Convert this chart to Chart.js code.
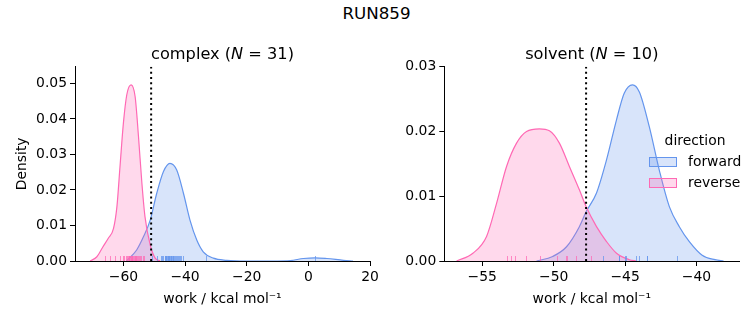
<!DOCTYPE html>
<html>
<head>
<meta charset="utf-8">
<script src="https://cdn.jsdelivr.net/npm/chart.js@4.4.0/dist/chart.umd.min.js"></script>
<style>
  html, body { margin: 0; padding: 0; background: #fff; }
  #wrap { position: relative; width: 753px; height: 325px; }
  #wrap canvas { position: absolute; left: 0; top: 0; }
  #sup { position: absolute; left: 0; top: 3px; width: 753px; text-align: center;
         font: 16.7px/20px "DejaVu Sans"; color: #000; }
</style>
</head>
<body>
<div id="wrap">
  <div id="sup">RUN859</div>
  <canvas id="complexChart" width="753" height="325"></canvas>
  <canvas id="solventChart" width="753" height="325"></canvas>
</div>
<script>
// complex leg: KDE curves (x = work, y = density)
const complexN = 31;
const complexForwardX = [-59.0, -55.7, -53.5, -51.3, -49.2, -47.0, -44.9, -42.7, -40.5, -38.4, -36.2, -34.1, -30.8, -26.5, -20.0, -10.0, -5.9, -1.6, 2.2, 6.0, 11.4, 14.5];
const complexForwardY = [0.0000, 0.0031, 0.0068, 0.0115, 0.0190, 0.0252, 0.0275, 0.0256, 0.0190, 0.0115, 0.0059, 0.0026, 0.0008, 0.0002, 0.0000, 0.0000, 0.0001, 0.0007, 0.0009, 0.0007, 0.0002, 0.0000];
const complexReverseX = [-70.8, -68.6, -66.5, -64.9, -63.2, -62.1, -61.1, -60.0, -58.9, -57.5, -56.2, -55.1, -54.0, -53.0, -51.3, -49.7, -48.1];
const complexReverseY = [0.0000, 0.0012, 0.0042, 0.0064, 0.0092, 0.0153, 0.0266, 0.0388, 0.0468, 0.0496, 0.0463, 0.0350, 0.0219, 0.0125, 0.0045, 0.0008, 0.0000];
const complexForwardRug = [-50.5, -49.0, -47.8, -47.2, -46.9, -46.5, -46.2, -46.0, -45.9, -45.7, -45.5, -45.3, -45.1, -44.9, -44.7, -44.5, -44.3, -44.1, -43.9, -43.6, -43.4, -43.1, -42.8, -42.5, -42.2, -41.9, -41.5, -41.1, -40.6, -33.0, 2.2];
const complexReverseRug = [-65.9, -64.3, -62.7, -61.1, -60.1, -59.5, -59.0, -58.7, -58.4, -58.1, -58.0, -57.9, -57.7, -57.5, -57.3, -57.1, -57.0, -56.9, -56.7, -56.5, -56.2, -56.0, -55.9, -55.6, -55.3, -55.0, -54.7, -54.3, -54.0, -53.6, -53.2];
const complexMark = -51.0;
const complexXTicks = [-60, -40, -20, 0, 20];
const complexYTicks = [0, 0.01, 0.02, 0.03, 0.04, 0.05];
const complexXRange = [-75.7, 20];
const complexYMax = 0.0547;

// solvent leg
const solventN = 10;
const solventForwardX = [-51.2, -50.07, -49.1, -48.2, -47.73, -47.0, -46.3, -45.6, -45.06, -44.48, -44.0, -43.3, -42.6, -41.9, -41.2, -40.5, -39.6, -38.7, -38.1];
const solventForwardY = [0.0000, 0.0007, 0.0022, 0.0053, 0.0076, 0.0105, 0.0156, 0.0218, 0.0259, 0.0272, 0.0261, 0.0207, 0.0140, 0.0084, 0.0053, 0.0030, 0.0009, 0.0002, 0.0000];
const solventReverseX = [-56.8, -55.66, -54.7, -54.0, -53.3, -52.6, -51.9, -51.0, -50.3, -49.6, -48.9, -48.2, -47.73, -47.0, -46.3, -45.6, -44.7, -44.2];
const solventReverseY = [0.0000, 0.0012, 0.0038, 0.0089, 0.0146, 0.0182, 0.0200, 0.0204, 0.0201, 0.0182, 0.0146, 0.0110, 0.0084, 0.0053, 0.0030, 0.0012, 0.0002, 0.0000];
const solventForwardRug = [-46.50, -45.41, -45.40, -44.94, -44.90, -44.17, -44.01, -43.43, -43.40, -41.33];
const solventReverseRug = [-53.22, -52.98, -52.68, -51.89, -50.93, -49.72, -49.13, -49.02, -48.43, -47.38];
const solventMark = -47.73;
const solventXTicks = [-55, -50, -45, -40];
const solventYTicks = [0, 0.01, 0.02, 0.03];
const solventXRange = [-57.66, -37.0];
const solventYMax = 0.03;

const blue = "#6495ED";
const pink = "#FF69B4";
const blueFill = "rgba(100,149,237,0.25)";
const pinkFill = "rgba(255,105,180,0.25)";
const LABEL = 13.9;   // 10pt
const TITLE = 16.2;   // 12pt-ish

Chart.defaults.font.family = "DejaVu Sans";
Chart.defaults.color = "#000";
Chart.defaults.animation = false;

const pairs = (xs, ys) => xs.map((x, i) => ({ x, y: ys[i] }));
const fmt = v => (v < 0 ? "\u2212" : "") + Math.abs(v);

// small vertical rug tick: top half coloured, bottom half empty so it sits on the axis
function rugMark(color) {
  const c = document.createElement("canvas");
  c.width = 1; c.height = 10;
  const g = c.getContext("2d");
  g.fillStyle = color;
  g.fillRect(0, 0, 1, 5);
  return c;
}

// axes title with an italic N, like matplotlib mathtext
const titlePlugin = {
  id: "mathTitle",
  afterDraw(chart, args, opts) {
    const ctx = chart.ctx;
    const area = chart.chartArea;
    const parts = [
      { t: opts.name + " (", f: `${TITLE}px 'DejaVu Sans'` },
      { t: "N", f: `italic ${TITLE}px 'DejaVu Sans'` },
      { t: " = " + opts.n + ")", f: `${TITLE}px 'DejaVu Sans'` }
    ];
    ctx.save();
    let w = 0;
    parts.forEach(p => { ctx.font = p.f; p.w = ctx.measureText(p.t).width; w += p.w; });
    let x = (area.left + area.right) / 2 - w / 2;
    ctx.fillStyle = "#000";
    ctx.textBaseline = "middle";
    parts.forEach(p => { ctx.font = p.f; ctx.fillText(p.t, x, opts.y); x += p.w; });
    ctx.restore();
  }
};

const legendPlugin = {
  id: "dirLegend",
  afterDraw(chart, args, opts) {
    if (!opts.show) return;
    const ctx = chart.ctx;
    ctx.save();
    ctx.font = `${LABEL}px 'DejaVu Sans'`;
    ctx.fillStyle = "#000";
    ctx.textBaseline = "middle";
    ctx.textAlign = "center";
    ctx.fillText("direction", opts.x + 46, opts.y);
    ctx.textAlign = "left";
    const kde = chart.data.datasets.filter(d => d.kde).sort((a, b) => a.legendIndex - b.legendIndex);
    kde.forEach((d, i) => {
      const y = opts.y + 21 + i * 21;
      ctx.fillStyle = d.backgroundColor;
      ctx.fillRect(opts.x, y - 5, 28, 10);
      ctx.strokeStyle = d.borderColor;
      ctx.lineWidth = 1;
      ctx.strokeRect(opts.x + 0.5, y - 4.5, 27, 9);
      ctx.fillStyle = "#000";
      ctx.fillText(d.label, opts.x + 39, y);
    });
    ctx.restore();
  }
};

function makeChart(id, cfg) {
  const datasets = [
    { label: "mark", data: [{ x: cfg.mark, y: 0 }, { x: cfg.mark, y: cfg.yMax }],
      borderColor: "#000", borderWidth: 2, borderDash: [2, 3.2], pointRadius: 0, fill: false },
    { label: "reverse rug", type: "scatter", data: cfg.reverseRug.map(x => ({ x, y: 0 })),
      pointStyle: rugMark("rgba(255,105,180,0.75)"), pointRadius: 3 },
    { label: "forward rug", type: "scatter", data: cfg.forwardRug.map(x => ({ x, y: 0 })),
      pointStyle: rugMark("rgba(100,149,237,0.75)"), pointRadius: 3 },
    { label: "reverse", kde: true, legendIndex: 1, data: pairs(cfg.reverseX, cfg.reverseY),
      borderColor: pink, backgroundColor: pinkFill, borderWidth: 1.2, fill: "origin",
      pointRadius: 0, cubicInterpolationMode: "monotone" },
    { label: "forward", kde: true, legendIndex: 0, data: pairs(cfg.forwardX, cfg.forwardY),
      borderColor: blue, backgroundColor: blueFill, borderWidth: 1.2, fill: "origin",
      pointRadius: 0, cubicInterpolationMode: "monotone" }
  ];

  return new Chart(document.getElementById(id), {
    type: "line",
    data: { datasets },
    plugins: [titlePlugin, legendPlugin],
    options: {
      responsive: false,
      layout: { padding: cfg.padding },
      plugins: {
        legend: { display: false },
        tooltip: { enabled: false },
        title: { display: false },
        mathTitle: { name: cfg.name, n: cfg.n, y: 55 },
        dirLegend: cfg.legend
      },
      scales: {
        x: {
          type: "linear", min: cfg.xRange[0], max: cfg.xRange[1],
          afterFit: s => { s.height = 64; },
          afterBuildTicks: s => { s.ticks = cfg.xTicks.map(value => ({ value })); },
          ticks: { callback: fmt, font: { size: LABEL }, padding: 3, maxRotation: 0 },
          grid: { drawOnChartArea: false, color: "#000", tickLength: 5 },
          border: { display: true, color: "#000", width: 1 },
          title: { display: true, text: "work / kcal mol\u207B\u00B9", font: { size: LABEL }, padding: { top: 0, bottom: 17 } }
        },
        y: {
          min: 0, max: cfg.yMax,
          afterFit: s => { s.width = cfg.yWidth; },
          afterBuildTicks: s => { s.ticks = cfg.yTicks.map(value => ({ value })); },
          ticks: { callback: v => v.toFixed(2), font: { size: LABEL }, padding: 3 },
          grid: { drawOnChartArea: false, color: "#000", tickLength: 5 },
          border: { display: true, color: "#000", width: 1 },
          title: { display: cfg.yTitle, text: "Density", font: { size: LABEL }, padding: { top: 14, bottom: 0 } }
        }
      }
    }
  });
}

makeChart("complexChart", {
  name: "complex", n: complexN,
  forwardX: complexForwardX, forwardY: complexForwardY,
  reverseX: complexReverseX, reverseY: complexReverseY,
  forwardRug: complexForwardRug, reverseRug: complexReverseRug,
  mark: complexMark, xTicks: complexXTicks, yTicks: complexYTicks,
  xRange: complexXRange, yMax: complexYMax,
  yWidth: 75, yTitle: true,
  padding: { left: 0, right: 383, top: 66.7, bottom: 0 },
  legend: { show: false }
});

makeChart("solventChart", {
  name: "solvent", n: solventN,
  forwardX: solventForwardX, forwardY: solventForwardY,
  reverseX: solventReverseX, reverseY: solventReverseY,
  forwardRug: solventForwardRug, reverseRug: solventReverseRug,
  mark: solventMark, xTicks: solventXTicks, yTicks: solventYTicks,
  xRange: solventXRange, yMax: solventYMax,
  yWidth: 60, yTitle: false,
  padding: { left: 384.3, right: 13.7, top: 66.7, bottom: 0 },
  legend: { show: true, x: 649, y: 141 }
});
</script>
</body>
</html>
